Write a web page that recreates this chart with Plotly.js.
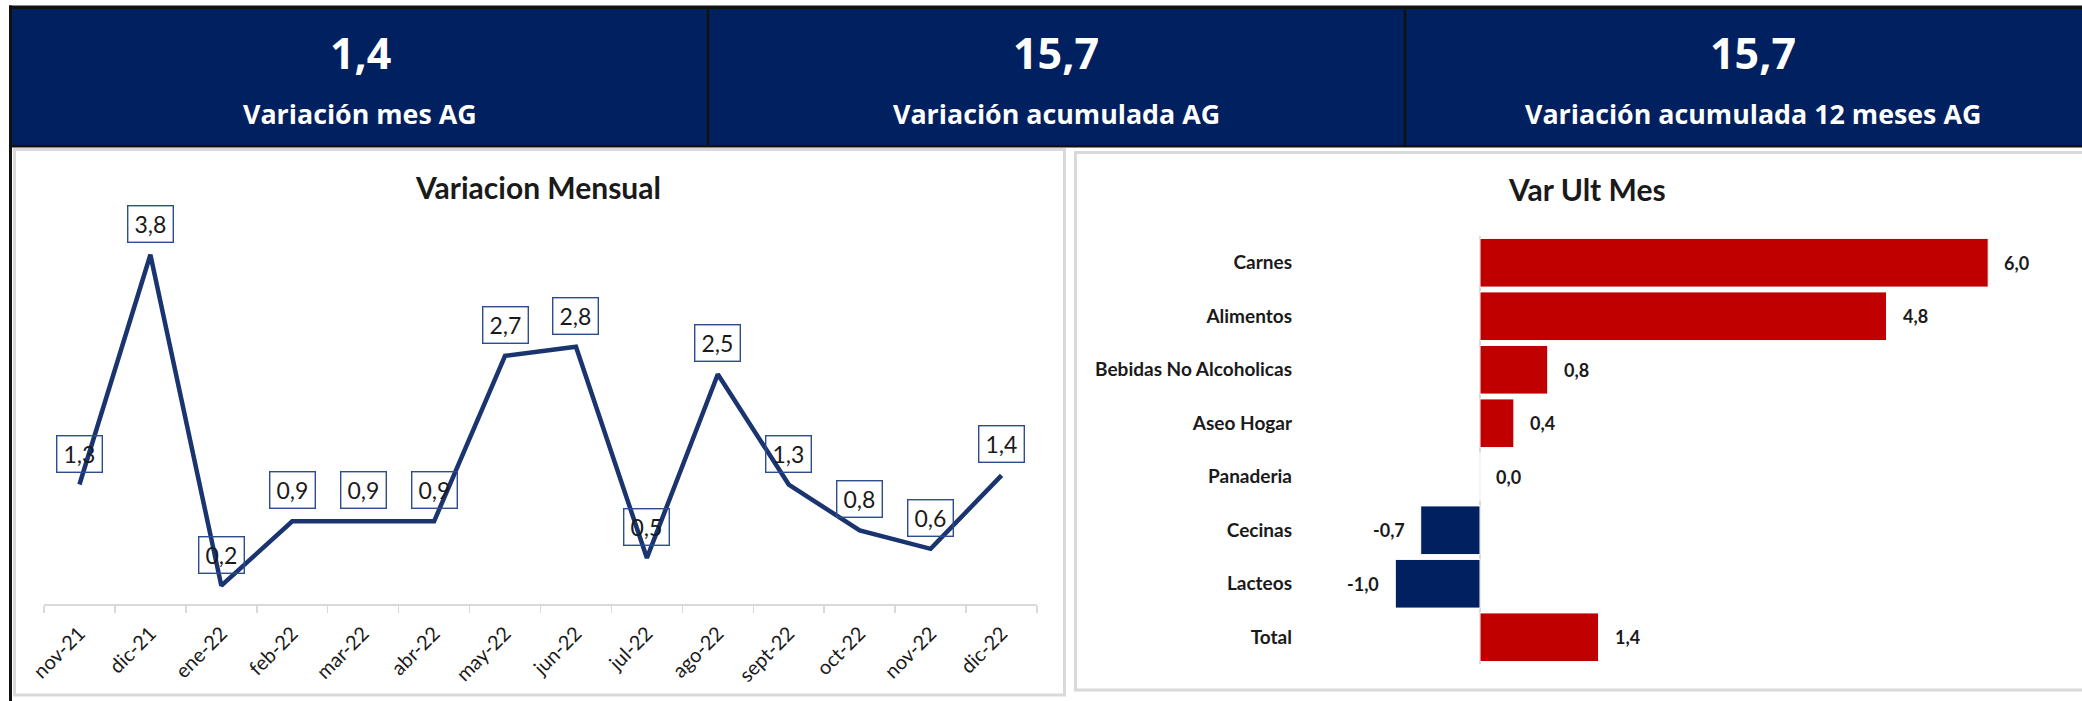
<!DOCTYPE html>
<html>
<head>
<meta charset="utf-8">
<script src="https://cdn.plot.ly/plotly-3.0.1.min.js"></script>
<style>
  html, body { margin: 0; padding: 0; background: #ffffff; }
  #chart { width: 2082px; height: 701px; }
</style>
</head>
<body>
<div id="chart"></div>
<script>
// ---- data ----
const kpiValues = [1.4, 15.7, 15.7];
const kpiLabels = ['Variación mes AG', 'Variación acumulada AG', 'Variación acumulada 12 meses AG'];

const months = ['nov-21','dic-21','ene-22','feb-22','mar-22','abr-22','may-22','jun-22','jul-22','ago-22','sept-22','oct-22','nov-22','dic-22'];
const monthlyVar = [1.3, 3.8, 0.2, 0.9, 0.9, 0.9, 2.7, 2.8, 0.5, 2.5, 1.3, 0.8, 0.6, 1.4];

const categories = ['Carnes','Alimentos','Bebidas No Alcoholicas','Aseo Hogar','Panaderia','Cecinas','Lacteos','Total'];
const lastMonthVar = [6.0, 4.8, 0.8, 0.4, 0.0, -0.7, -1.0, 1.4];

const chartTitles = ['Variacion Mensual', 'Var Ult Mes'];

// ---- helpers ----
const W = 2082, H = 701;
const px = v => v / W;
const py = v => 1 - v / H;
const fmt = v => v.toFixed(1).replace('.', ',');

const NAVY = '#002060';
const RED = '#C00000';
const LINE = '#1a3470';
const BORDER = '#d9d9d9';

// line chart geometry
const lineLeft = 44, lineRight = 1037, lineZero = 604, lineUnit = 91.9, lineYMax = 4.2;
// bar chart geometry
const barLeft = 1296, barRight = 2060, barZero = 1480, barUnit = 84.7, barTop = 236, barBottom = 664;

const traces = [
  {
    type: 'scatter', mode: 'lines',
    x: months, y: monthlyVar,
    xaxis: 'x', yaxis: 'y',
    line: { color: LINE, width: 4.5 },
    hoverinfo: 'skip'
  },
  {
    type: 'bar', orientation: 'h',
    x: lastMonthVar, y: categories,
    xaxis: 'x2', yaxis: 'y2',
    marker: { color: lastMonthVar.map(v => v < 0 ? NAVY : RED), line: { color: '#ffffff', width: 1 } },
    hoverinfo: 'skip'
  }
];

const shapes = [
  // panels
  { type: 'rect', xref: 'paper', yref: 'paper', layer: 'below',
    x0: px(14.5), x1: px(1064.5), y0: py(695), y1: py(149.5),
    line: { color: BORDER, width: 3 }, fillcolor: '#ffffff' },
  { type: 'rect', xref: 'paper', yref: 'paper', layer: 'below',
    x0: px(1075.5), x1: px(2095), y0: py(690), y1: py(152.5),
    line: { color: BORDER, width: 3 }, fillcolor: '#ffffff' },
  // header boxes
  { type: 'rect', xref: 'paper', yref: 'paper', layer: 'above',
    x0: px(12), x1: px(2082), y0: py(145), y1: py(9),
    line: { width: 0 }, fillcolor: NAVY },
  // top black line
  { type: 'rect', xref: 'paper', yref: 'paper', layer: 'above',
    x0: px(9), x1: px(2082), y0: py(9), y1: py(5.5),
    line: { width: 0 }, fillcolor: '#111111' },
  // line under header
  { type: 'rect', xref: 'paper', yref: 'paper', layer: 'above',
    x0: px(9), x1: px(2082), y0: py(147.5), y1: py(145),
    line: { width: 0 }, fillcolor: '#111111' },
  // left black border
  { type: 'rect', xref: 'paper', yref: 'paper', layer: 'above',
    x0: px(9), x1: px(12), y0: py(701), y1: py(5.5),
    line: { width: 0 }, fillcolor: '#111111' },
  // dividers
  { type: 'line', xref: 'paper', yref: 'paper', layer: 'above',
    x0: px(708), x1: px(708), y0: py(145), y1: py(9),
    line: { color: '#111111', width: 2.5 } },
  { type: 'line', xref: 'paper', yref: 'paper', layer: 'above',
    x0: px(1405), x1: px(1405), y0: py(145), y1: py(9),
    line: { color: '#111111', width: 2.5 } }
];

const annotations = [];
const kpiCenters = [360, 1056, 1753];
kpiValues.forEach((v, i) => {
  annotations.push({
    xref: 'paper', yref: 'paper', x: px(kpiCenters[i]), y: py(53),
    text: '<b>' + fmt(v) + '</b>', showarrow: false,
    xanchor: 'center', yanchor: 'middle',
    font: { family: 'Open Sans, sans-serif', size: 43, color: '#ffffff' }
  });
  annotations.push({
    xref: 'paper', yref: 'paper', x: px(kpiCenters[i]), y: py(114),
    text: '<b>' + kpiLabels[i] + '</b>', showarrow: false,
    xanchor: 'center', yanchor: 'middle',
    font: { family: 'Open Sans, sans-serif', size: 26.8, color: '#ffffff' }
  });
});

// chart titles
annotations.push({
  xref: 'paper', yref: 'paper', x: px(538), y: py(187),
  text: '<b>' + chartTitles[0] + '</b>', showarrow: false,
  xanchor: 'center', yanchor: 'middle',
  font: { family: 'Lato, sans-serif', size: 30, color: '#1a1a1a' }
});
annotations.push({
  xref: 'paper', yref: 'paper', x: px(1587), y: py(189),
  text: '<b>' + chartTitles[1] + '</b>', showarrow: false,
  xanchor: 'center', yanchor: 'middle',
  font: { family: 'Lato, sans-serif', size: 30, color: '#1a1a1a' }
});

// line data labels
months.forEach((m, i) => {
  annotations.push({
    xref: 'x', yref: 'y', x: m, y: monthlyVar[i],
    text: fmt(monthlyVar[i]), showarrow: false,
    xanchor: 'center', yanchor: 'middle', yshift: 31,
    width: 42, height: 33, borderpad: 1,
    bordercolor: '#2e4d8f', borderwidth: 1.4,
    font: { family: 'Lato, sans-serif', size: 23, color: '#1a1a1a' }
  });
});

// bar data labels
categories.forEach((c, i) => {
  const v = lastMonthVar[i];
  annotations.push({
    xref: 'x2', yref: 'y2', x: v, y: c,
    text: '<b>' + fmt(v) + '</b>', showarrow: false,
    xanchor: v < 0 ? 'right' : 'left', yanchor: 'middle',
    xshift: v < 0 ? -14 : 14,
    font: { family: 'Lato, sans-serif', size: 18, color: '#1a1a1a' }
  });
});

const layout = {
  width: W, height: H,
  margin: { l: 0, r: 0, t: 0, b: 0, pad: 0 },
  paper_bgcolor: '#ffffff',
  plot_bgcolor: 'rgba(0,0,0,0)',
  showlegend: false,
  bargap: 0.09,
  xaxis: {
    domain: [px(lineLeft), px(lineRight)], anchor: 'y',
    type: 'category', range: [-0.5, months.length - 0.5],
    showline: true, linecolor: BORDER, linewidth: 2,
    ticks: 'outside', tickson: 'boundaries', ticklen: 7, tickcolor: BORDER, tickwidth: 1.5,
    tickangle: -45, ticklabelstandoff: 8,
    tickfont: { family: 'Lato, sans-serif', size: 20, color: '#1a1a1a' },
    showgrid: false, zeroline: false, fixedrange: true
  },
  yaxis: {
    domain: [py(lineZero), py(lineZero - lineYMax * lineUnit)], anchor: 'x',
    range: [0, lineYMax], visible: false, fixedrange: true
  },
  xaxis2: {
    domain: [px(barLeft), px(barRight)], anchor: 'y2',
    range: [(barLeft - barZero) / barUnit, (barRight - barZero) / barUnit],
    showgrid: false, zeroline: true, zerolinecolor: BORDER, zerolinewidth: 2,
    showticklabels: false, ticks: '', showline: false, fixedrange: true
  },
  yaxis2: {
    domain: [py(barBottom), py(barTop)], anchor: 'x2',
    type: 'category', autorange: 'reversed',
    showline: false, ticks: '', showgrid: false, zeroline: false,
    tickfont: { family: 'Lato, sans-serif', size: 19, color: '#1a1a1a', weight: 'bold' },
    ticklabelstandoff: 3, fixedrange: true
  },
  shapes: shapes,
  annotations: annotations
};

Plotly.newPlot('chart', traces, layout, { staticPlot: true, displayModeBar: false });
</script>
</body>
</html>
